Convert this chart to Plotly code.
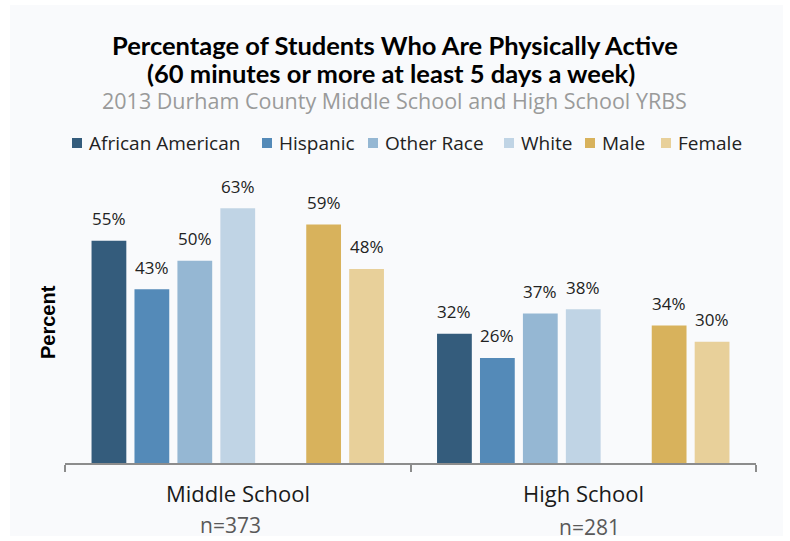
import plotly.graph_objects as go

# ---- data -------------------------------------------------------------
schools = ["Middle School", "High School"]
sample_sizes = ["n=373", "n=281"]
series_names = ["African American", "Hispanic", "Other Race", "White", "Male", "Female"]
african_american = [55, 32]
hispanic = [43, 26]
other_race = [50, 37]
white = [63, 38]
male = [59, 34]
female = [48, 30]

series_values = [african_american, hispanic, other_race, white, male, female]
series_colors = ["#345c7c", "#548ab8", "#95b7d3", "#c0d4e5", "#d8b25c", "#e8d09a"]

# ---- figure geometry (pixels) -----------------------------------------
W, H = 790, 541
L, R, T, B = 65, 34, 180, 78
PW, PH = W - L - R, H - T - B
BARGAP, GROUPGAP = 0.13, 0.19


def px_x(px):
    return (px - L) / PW


def px_y(py):
    return (H - B - py) / PH


BODY = "Open Sans, sans-serif"

fig = go.Figure()

# race bars, a blank slot, then sex bars
slots = []
for i in range(4):
    slots.append(i)
slots.append(None)
for i in range(4, 6):
    slots.append(i)

for s in slots:
    if s is None:
        fig.add_trace(go.Bar(x=schools, y=[None, None], showlegend=False,
                             hoverinfo="skip", marker_color="rgba(0,0,0,0)"))
    else:
        fig.add_trace(go.Bar(x=schools, y=series_values[s], name=series_names[s],
                             marker=dict(color=series_colors[s], line_width=0),
                             showlegend=False))

annotations = []

# value labels above each bar
n_slots = len(slots)
slot_w = (1 - BARGAP) / n_slots
for j, s in enumerate(slots):
    if s is None:
        continue
    off = -(1 - BARGAP) / 2 + slot_w * (j + 0.5)
    for ci, v in enumerate(series_values[s]):
        annotations.append(dict(x=ci + off, y=v, xref="x", yref="y",
                                text=f"{v}%", showarrow=False, yshift=22,
                                yanchor="middle", xanchor="center",
                                font=dict(family=BODY, size=17, color="#222222")))

# category names and sample sizes
for ci, (name, n, dx, yc) in enumerate(zip(schools, sample_sizes, [-7, 6], [525, 527])):
    annotations.append(dict(x=ci, y=px_y(493), xref="x", yref="paper", text=name,
                            showarrow=False, yanchor="middle",
                            font=dict(family=BODY, size=22, color="#1a1a1a")))
    annotations.append(dict(x=ci, y=px_y(yc), xref="x", yref="paper", text=n,
                            xshift=dx, showarrow=False, yanchor="middle",
                            font=dict(family=BODY, size=21, color="#595959")))

# titles
annotations += [
    dict(x=px_x(395), y=px_y(45), xref="paper", yref="paper", showarrow=False,
         text="<b>Percentage of Students Who Are Physically Active</b>",
         yanchor="middle", font=dict(family="Lato, sans-serif", size=25.5, color="#000000")),
    dict(x=px_x(391), y=px_y(73), xref="paper", yref="paper", showarrow=False,
         text="<b>(60 minutes or more at least 5 days a week)</b>",
         yanchor="middle", font=dict(family="Lato, sans-serif", size=25.5, color="#000000")),
    dict(x=px_x(394), y=px_y(100), xref="paper", yref="paper", showarrow=False,
         text="2013 Durham County Middle School and High School YRBS",
         yanchor="middle", font=dict(family=BODY, size=21.5, color="#9a9a9a")),
    dict(x=px_x(48), y=px_y(322), xref="paper", yref="paper", showarrow=False,
         text="<b>Percent</b>", textangle=-90, xanchor="center", yanchor="middle",
         font=dict(family="Liberation Sans, Arial, sans-serif", size=20, color="#000000")),
]

# legend: coloured squares with labels
legend_text_x = [87, 277, 383, 519, 600, 676]
shapes = [dict(type="rect", xref="paper", yref="paper", layer="below",
               x0=px_x(10), x1=px_x(783), y0=px_y(536), y1=px_y(5),
               fillcolor="#f9fafc", line_width=0)]
for name, col, tx in zip(series_names, series_colors, legend_text_x):
    shapes.append(dict(type="rect", xref="paper", yref="paper",
                       x0=px_x(tx - 15), x1=px_x(tx - 5),
                       y0=px_y(148), y1=px_y(138), fillcolor=col, line_width=0))
    annotations.append(dict(x=px_x(tx), y=px_y(143), xref="paper", yref="paper",
                            text=name, showarrow=False, xanchor="left", yanchor="middle",
                            font=dict(family=BODY, size=19, color="#222222")))

fig.update_layout(
    width=W, height=H,
    margin=dict(l=L, r=R, t=T, b=B, pad=0),
    paper_bgcolor="#ffffff", plot_bgcolor="rgba(0,0,0,0)",
    barmode="group", bargap=BARGAP, bargroupgap=GROUPGAP,
    showlegend=False,
    annotations=annotations, shapes=shapes,
    xaxis=dict(type="category", range=[-0.5, 1.5], showticklabels=False,
               showline=True, linecolor="#8c8c8c", linewidth=2,
               ticks="outside", tickson="boundaries", ticklen=7,
               tickcolor="#8c8c8c", tickwidth=2, showgrid=False, zeroline=False),
    yaxis=dict(range=[0, 70], showticklabels=False, showgrid=False,
               zeroline=False, showline=False, ticks=""),
)

fig.write_html("out.html")
